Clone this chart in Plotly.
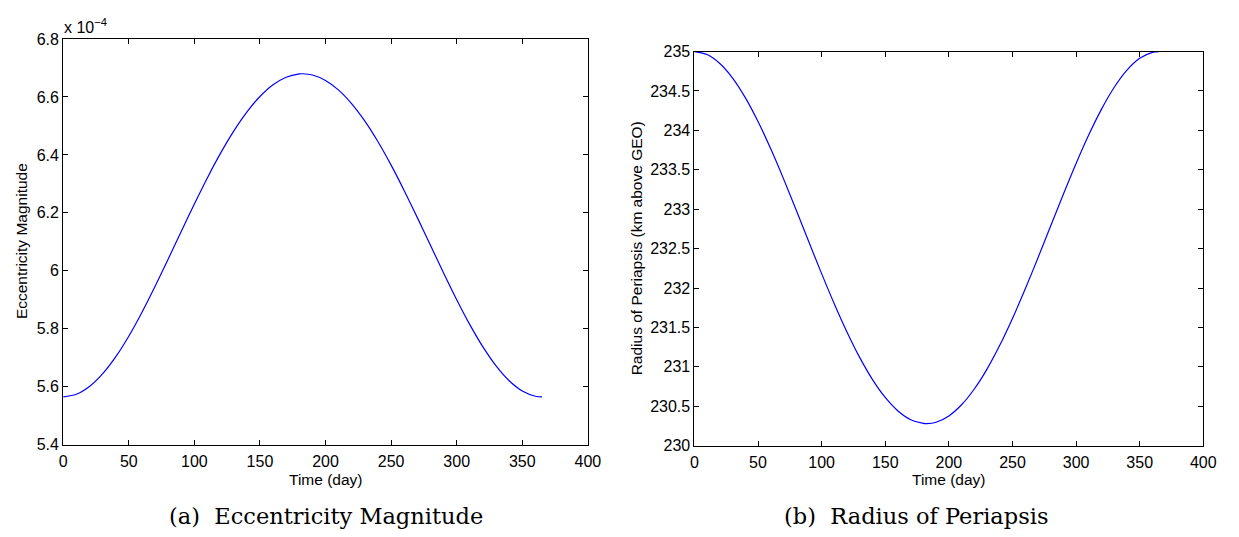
import plotly.graph_objects as go

# Time in days
days = [0, 10, 20, 30, 40, 50, 60, 70, 80, 90, 100, 110, 120, 130, 140, 150,
        160, 170, 180, 182.5, 190, 200, 210, 220, 230, 240, 250, 260, 270,
        280, 290, 300, 310, 320, 330, 340, 350, 360, 365]

# Eccentricity magnitude (x 10^-4)
ecc = [5.5650, 5.5741, 5.6009, 5.6444, 5.7030, 5.7745, 5.8565, 5.9459,
       6.0400, 6.1359, 6.2306, 6.3215, 6.4061, 6.4822, 6.5479, 6.6016,
       6.6420, 6.6682, 6.6795, 6.6800, 6.6757, 6.6570, 6.6236, 6.5764,
       6.5165, 6.4454, 6.3647, 6.2767, 6.1836, 6.0880, 5.9926, 5.9004,
       5.8144, 5.7374, 5.6720, 5.6207, 5.5853, 5.5673, 5.5650]

# Radius of periapsis (km above GEO)
rp = [235.000, 234.962, 234.848, 234.664, 234.416, 234.113, 233.766,
      233.388, 232.989, 232.583, 232.183, 231.798, 231.440, 231.117,
      230.839, 230.612, 230.441, 230.330, 230.282, 230.280, 230.298,
      230.378, 230.519, 230.719, 230.972, 231.273, 231.615, 231.987,
      232.382, 232.786, 233.190, 233.580, 233.944, 234.270, 234.547,
      234.764, 234.914, 234.990, 235.000]

x_ticks = [0, 50, 100, 150, 200, 250, 300, 350, 400]
ecc_ticks = [5.4, 5.6, 5.8, 6.0, 6.2, 6.4, 6.6, 6.8]
ecc_ticklabels = ["5.4", "5.6", "5.8", "6", "6.2", "6.4", "6.6", "6.8"]
rp_ticks = [230, 230.5, 231, 231.5, 232, 232.5, 233, 233.5, 234, 234.5, 235]
rp_ticklabels = ["230", "230.5", "231", "231.5", "232", "232.5", "233",
                 "233.5", "234", "234.5", "235"]

W, H = 1239, 537
def px(x):
    return x / W
def py(y):
    return (H - y) / H

tick_font = dict(family="Liberation Sans, Arial, sans-serif", size=16, color="black")
title_font = dict(family="Liberation Sans, Arial, sans-serif", size=15.5, color="black")
cap_font = dict(family="DejaVu Serif, serif", size=22.5, color="black")

fig = go.Figure()
fig.add_trace(go.Scatter(x=days, y=ecc, mode="lines", line=dict(color="#0000ff", width=1.2, shape="spline", smoothing=0.8),
                         xaxis="x", yaxis="y", showlegend=False))
fig.add_trace(go.Scatter(x=days, y=rp, mode="lines", line=dict(color="#0000ff", width=1.2, shape="spline", smoothing=0.8),
                         xaxis="x2", yaxis="y2", showlegend=False))

axis_common = dict(showgrid=False, zeroline=False, showline=True, linecolor="black", linewidth=1,
                   mirror="ticks", ticks="inside", ticklen=5, tickcolor="black", tickwidth=1,
                   tickfont=tick_font)

fig.update_layout(
    width=W, height=H,
    margin=dict(l=0, r=0, t=0, b=0),
    paper_bgcolor="white", plot_bgcolor="white",
    xaxis=dict(domain=[px(60), px(592)], range=[0, 400], tickvals=x_ticks, anchor="y",
               ticklabelstandoff=2, **axis_common),
    yaxis=dict(domain=[py(451), py(32)], range=[5.4, 6.8], tickvals=ecc_ticks, ticktext=ecc_ticklabels,
               anchor="x", **axis_common),
    xaxis2=dict(domain=[px(700), px(1216)], range=[0, 400], tickvals=x_ticks, anchor="y2",
                ticklabelstandoff=2, **axis_common),
    yaxis2=dict(domain=[py(452), py(45)], range=[230, 235], tickvals=rp_ticks, ticktext=rp_ticklabels,
                anchor="x2", **axis_common),
)

ann = [
    dict(text="Time (day)", x=px(326), y=py(487), xanchor="center", yanchor="middle", font=title_font),
    dict(text="Time (day)", x=px(958), y=py(487), xanchor="center", yanchor="middle", font=title_font),
    dict(text="Eccentricity Magnitude", x=px(18), y=py(241), xanchor="center", yanchor="middle",
         textangle=-90, font=title_font),
    dict(text="Radius of Periapsis (km above GEO)", x=px(641), y=py(248), xanchor="center",
         yanchor="middle", textangle=-90, font=title_font),
    dict(text="x 10<sup>\u22124</sup>", x=px(59), y=py(31), xanchor="left", yanchor="bottom", font=tick_font),
    dict(text="(a)  Eccentricity Magnitude", x=px(326), y=py(525), xanchor="center", yanchor="middle",
         font=cap_font),
    dict(text="(b)  Radius of Periapsis", x=px(925), y=py(525), xanchor="center", yanchor="middle",
         font=cap_font),
]
for a in ann:
    a.update(xref="paper", yref="paper", showarrow=False)
fig.update_layout(annotations=ann)

fig.write_html("out.html")
